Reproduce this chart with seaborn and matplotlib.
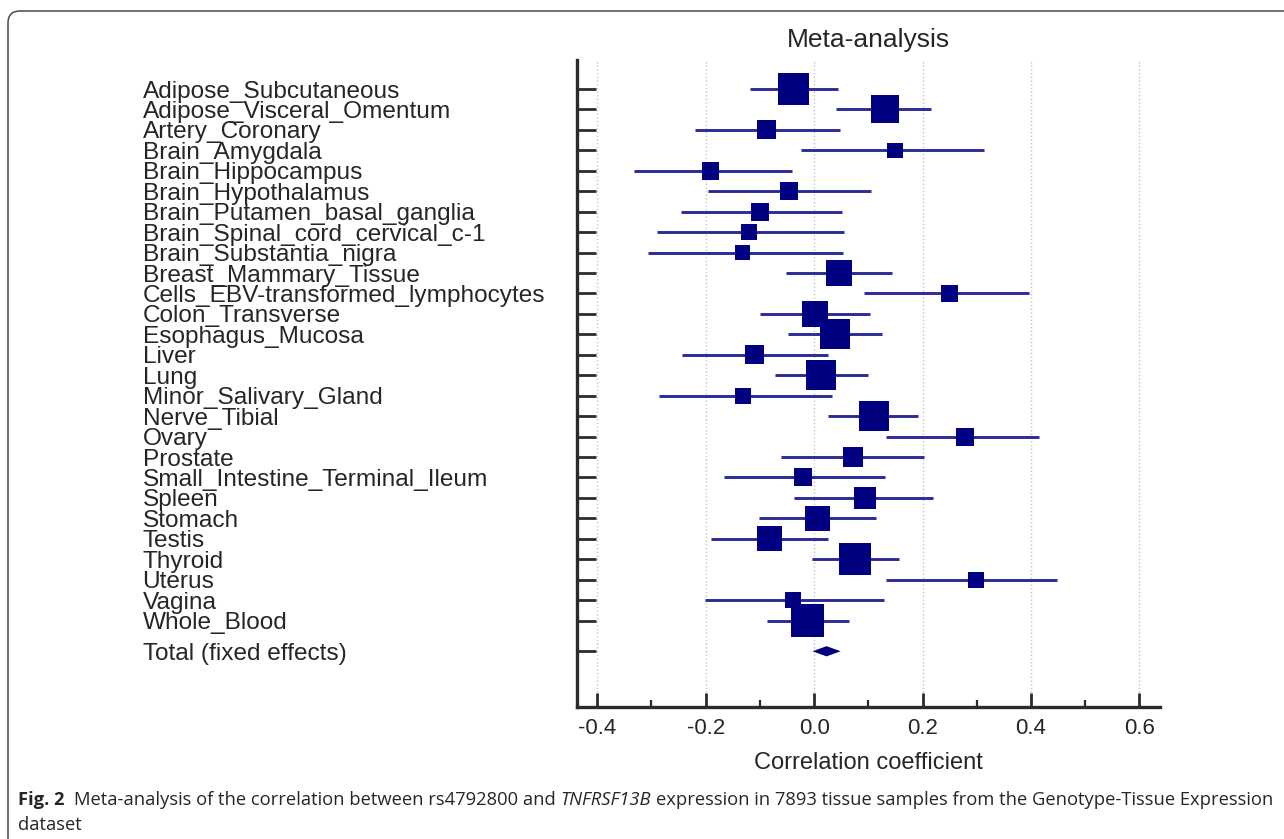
import numpy as np
import pandas as pd
import matplotlib
matplotlib.use("Agg")
import matplotlib.pyplot as plt
import seaborn as sns
from matplotlib.patches import FancyBboxPatch
from matplotlib.transforms import IdentityTransform
from matplotlib.ticker import MultipleLocator

# values
tissues = [
    "Adipose_Subcutaneous", "Adipose_Visceral_Omentum", "Artery_Coronary",
    "Brain_Amygdala", "Brain_Hippocampus", "Brain_Hypothalamus",
    "Brain_Putamen_basal_ganglia", "Brain_Spinal_cord_cervical_c-1",
    "Brain_Substantia_nigra", "Breast_Mammary_Tissue",
    "Cells_EBV-transformed_lymphocytes", "Colon_Transverse", "Esophagus_Mucosa",
    "Liver", "Lung", "Minor_Salivary_Gland", "Nerve_Tibial", "Ovary", "Prostate",
    "Small_Intestine_Terminal_Ileum", "Spleen", "Stomach", "Testis", "Thyroid",
    "Uterus", "Vagina", "Whole_Blood",
]
estimates = [-0.038, 0.130, -0.087, 0.149, -0.191, -0.046, -0.099, -0.120,
             -0.132, 0.046, 0.250, 0.002, 0.038, -0.110, 0.013, -0.131, 0.110,
             0.279, 0.072, -0.020, 0.094, 0.007, -0.082, 0.076, 0.299, -0.039,
             -0.012]
ci_low = [-0.118, 0.040, -0.220, -0.024, -0.333, -0.195, -0.246, -0.289,
          -0.306, -0.052, 0.092, -0.100, -0.049, -0.243, -0.073, -0.287, 0.025,
          0.133, -0.061, -0.167, -0.037, -0.101, -0.191, -0.004, 0.133, -0.202,
          -0.087]
ci_high = [0.044, 0.216, 0.048, 0.313, -0.040, 0.105, 0.052, 0.056, 0.054,
           0.144, 0.396, 0.104, 0.126, 0.026, 0.100, 0.033, 0.192, 0.414,
           0.202, 0.130, 0.220, 0.115, 0.026, 0.157, 0.448, 0.129, 0.064]
weights = [7.09, 5.48, 2.57, 1.73, 2.18, 2.18, 2.27, 1.82, 1.41, 5.04, 2.18,
           4.90, 6.42, 2.57, 6.26, 1.82, 6.26, 2.27, 2.68, 2.27, 3.23, 4.35,
           4.35, 7.26, 1.82, 1.82, 7.79]
total_label = "Total (fixed effects)"
total_estimate = 0.023
total_low = -0.003
total_high = 0.049
x_ticks = [-0.4, -0.2, 0.0, 0.2, 0.4, 0.6]

df = pd.DataFrame({"tissue": tissues, "est": estimates, "lo": ci_low,
                   "hi": ci_high, "weight": weights})
df["row"] = np.arange(len(df))
total_row = len(df) + 0.5

sns.set_style("white")
plt.rcParams["font.family"] = ["Liberation Sans", "DejaVu Sans"]

fig = plt.figure(figsize=(12.84, 8.39), dpi=100)
ax = fig.add_axes([0.4491, 0.157, 0.4543, 0.7715])

navy = "#000080"
line_blue = "#2b2b98"

ax.hlines(df["row"], df["lo"], df["hi"], color=line_blue, lw=2.1, zorder=2)

# square area proportional to weight
k = 73.9
sns.scatterplot(data=df, x="est", y="row", size="weight",
                sizes=(k * df["weight"].min(), k * df["weight"].max()),
                marker="s", color=navy, linewidth=0, legend=False,
                ax=ax, zorder=3)

h = 0.25
ax.fill([total_low, total_estimate, total_high, total_estimate],
        [total_row, total_row - h, total_row, total_row + h],
        color=navy, lw=0, zorder=3)

ax.set_xlim(-0.438, 0.638)
ax.set_ylim(30.24, -1.42)
ax.set_xticks(x_ticks)
ax.set_xticklabels([f"{t:.1f}" for t in x_ticks], fontsize=16)
ax.xaxis.set_minor_locator(MultipleLocator(0.1))
ax.set_yticks(list(df["row"]) + [total_row])
ax.set_yticklabels(tissues + [total_label], fontsize=17.6, ha="left")

ax.tick_params(axis="y", direction="in", length=13.5, width=2,
               color="#2b2b2b", left=True, pad=312.5)
ax.tick_params(axis="x", which="major", direction="in", length=10, width=2,
               color="#2b2b2b", bottom=True, pad=8)
ax.tick_params(axis="x", which="minor", direction="in", length=5, width=1.6,
               color="#2b2b2b", bottom=True)

ax.grid(axis="x", which="major", color="#c4c4c4", linestyle=":", lw=1)
ax.grid(axis="y", visible=False)
for side in ["top", "right"]:
    ax.spines[side].set_visible(False)
for side in ["left", "bottom"]:
    ax.spines[side].set_linewidth(2.4)
    ax.spines[side].set_color("#2b2b2b")

ax.set_xlabel("Correlation coefficient", fontsize=17, labelpad=9)
ax.set_ylabel("")
ax.set_title("Meta-analysis", fontsize=19, pad=9)

# rounded frame of the figure panel, open at the right and bottom
frame = FancyBboxPatch((8, -30), 1320, 839 - 11 + 30,
                       boxstyle="round,pad=0,rounding_size=12",
                       transform=IdentityTransform(), fill=False,
                       edgecolor="#4a4a4a", lw=1.1)
fig.patches.append(frame)

# caption
cap_font = ["Open Sans", "DejaVu Sans"]
cap_size = 13.2
t1 = fig.text(18 / 1284, 1 - 809 / 839, "Fig. 2", fontsize=cap_size,
              fontweight="bold", family=cap_font, va="bottom")
t2 = ax.annotate("Meta-analysis of the correlation between rs4792800 and",
                 xy=(1, 0), xycoords=t1, xytext=(7, 0),
                 textcoords="offset points", fontsize=cap_size,
                 family=cap_font, va="bottom", annotation_clip=False)
t3 = ax.annotate("TNFRSF13B", xy=(1, 0), xycoords=t2, xytext=(3.5, 0),
                 textcoords="offset points", fontsize=cap_size,
                 family=cap_font, style="italic", va="bottom",
                 annotation_clip=False)
ax.annotate("expression in 7893 tissue samples from the Genotype-Tissue Expression",
            xy=(1, 0), xycoords=t3, xytext=(3.5, 0),
            textcoords="offset points", fontsize=cap_size, family=cap_font,
            va="bottom", annotation_clip=False)
fig.text(18 / 1284, 1 - 834 / 839, "dataset", fontsize=cap_size,
         family=cap_font, va="bottom")

fig.savefig("out.png", dpi=100)
plt.close(fig)
